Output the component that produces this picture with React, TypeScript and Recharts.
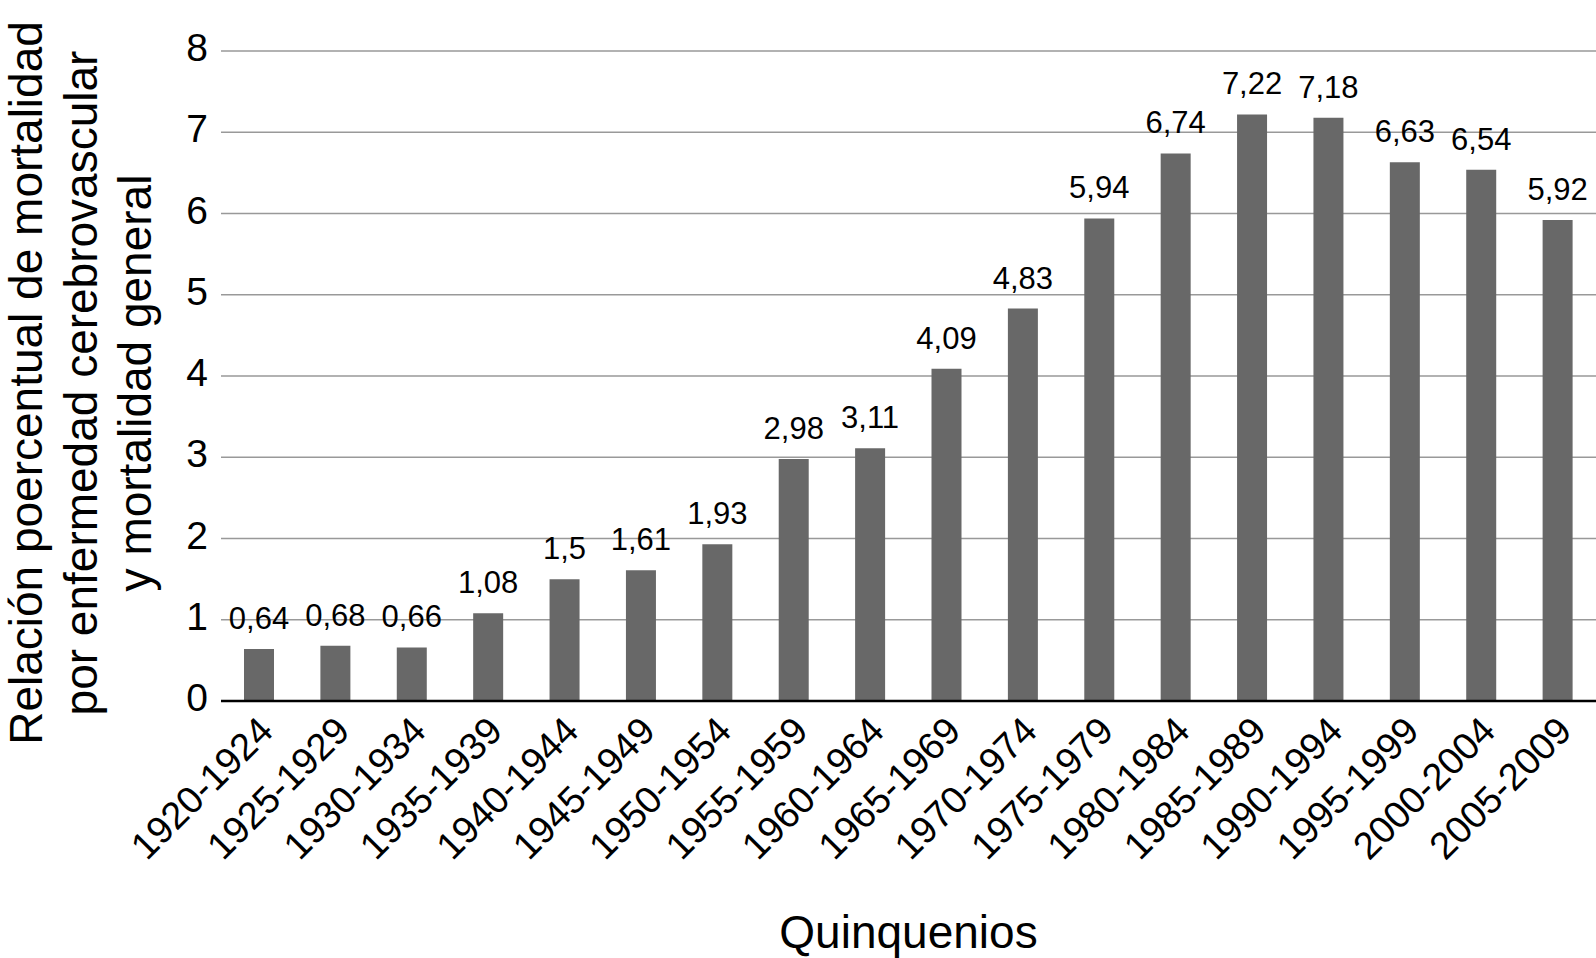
import React from "react";
import { BarChart, Bar, XAxis, YAxis, CartesianGrid, LabelList } from "recharts";

const periods = [
    "1920-1924", "1925-1929", "1930-1934", "1935-1939", "1940-1944", "1945-1949",
    "1950-1954", "1955-1959", "1960-1964", "1965-1969", "1970-1974", "1975-1979",
    "1980-1984", "1985-1989", "1990-1994", "1995-1999", "2000-2004", "2005-2009",
];

const ratios = [
    0.64, 0.68, 0.66, 1.08, 1.5, 1.61, 1.93, 2.98, 3.11,
    4.09, 4.83, 5.94, 6.74, 7.22, 7.18, 6.63, 6.54, 5.92,
];

const yTicks = [0, 1, 2, 3, 4, 5, 6, 7, 8];

const yTitleLines = [
    "Relación poercentual de mortalidad",
    "por enfermedad cerebrovascular",
    "y mortalidad general",
];

const xTitle = "Quinquenios";

const FONT = "'Liberation Sans', Arial, Helvetica, sans-serif";

const data = periods.map((p, i) => ({ period: p, value: ratios[i] }));

function XTick({ x, y, payload }: any) {
    return (
        <text
            transform={`translate(${x + 16},${y + 24}) rotate(-45)`}
            textAnchor="end"
            fontSize={38}
            fontFamily={FONT}
            fill="#000"
        >
            {payload.value}
        </text>
    );
}

function YTick({ x, y, payload }: any) {
    return (
        <text x={x} y={y + 10} textAnchor="end" fontSize={39} fontFamily={FONT} fill="#000">
            {payload.value}
        </text>
    );
}

function YTitle() {
    const baselines = [42, 97, 151];
    return (
        <g>
            {yTitleLines.map((line, i) => (
                <text
                    key={i}
                    transform={`translate(${baselines[i]},383) rotate(-90)`}
                    textAnchor="middle"
                    fontSize={46}
                    fontFamily={FONT}
                    fill="#000"
                >
                    {line}
                </text>
            ))}
        </g>
    );
}

function XTitle({ viewBox }: any) {
    const cx = viewBox.x + viewBox.width / 2;
    return (
        <text x={cx} y={948} textAnchor="middle" fontSize={46} fontFamily={FONT} fill="#000">
            {xTitle}
        </text>
    );
}

export default function App() {
    return (
        <div style={{ position: "absolute", left: 0, top: 0, background: "#fff" }}>
            <BarChart
                width={1596}
                height={958}
                data={data}
                margin={{ top: 51, right: 0, bottom: 0, left: 0 }}
            >
                <CartesianGrid vertical={false} stroke="#999" strokeWidth={1.3} />
                <XAxis
                    dataKey="period"
                    interval={0}
                    height={257}
                    tickLine={false}
                    axisLine={{ stroke: "#000", strokeWidth: 2.5 }}
                    tick={<XTick />}
                    label={<XTitle />}
                />
                <YAxis
                    width={221}
                    domain={[0, 8]}
                    ticks={yTicks}
                    axisLine={false}
                    tickLine={false}
                    tickMargin={7}
                    tick={<YTick />}
                    label={<YTitle />}
                />
                <Bar dataKey="value" fill="#686868" barSize={30} isAnimationActive={false}>
                    <LabelList
                        dataKey="value"
                        position="top"
                        offset={20}
                        fontSize={31}
                        fontFamily={FONT}
                        fill="#000"
                        formatter={(v: any) => String(v).replace(".", ",")}
                    />
                </Bar>
            </BarChart>
        </div>
    );
}
